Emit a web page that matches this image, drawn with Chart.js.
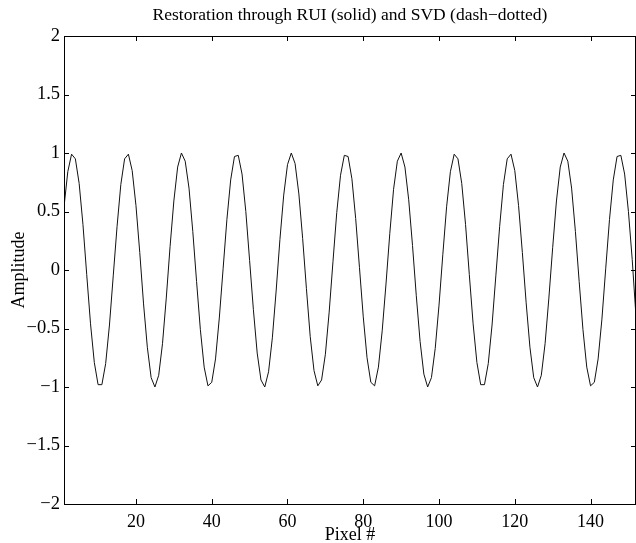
<!DOCTYPE html>
<html>
<head>
<meta charset="utf-8">
<script src="https://cdn.jsdelivr.net/npm/chart.js@4"></script>
<style>
  html, body { margin: 0; padding: 0; background: #fff; }
  #wrap { width: 636px; height: 543px; }
</style>
</head>
<body>
<div id="wrap"><canvas id="chart__restoration"></canvas></div>
<script>
const pixelIndex = [
    1, 2, 3, 4, 5, 6, 7, 8, 9, 10, 11, 12, 13, 14, 15, 16, 17, 18, 19, 20,
    21, 22, 23, 24, 25, 26, 27, 28, 29, 30, 31, 32, 33, 34, 35, 36, 37, 38, 39, 40,
    41, 42, 43, 44, 45, 46, 47, 48, 49, 50, 51, 52, 53, 54, 55, 56, 57, 58, 59, 60,
    61, 62, 63, 64, 65, 66, 67, 68, 69, 70, 71, 72, 73, 74, 75, 76, 77, 78, 79, 80,
    81, 82, 83, 84, 85, 86, 87, 88, 89, 90, 91, 92, 93, 94, 95, 96, 97, 98, 99, 100,
    101, 102, 103, 104, 105, 106, 107, 108, 109, 110, 111, 112, 113, 114, 115, 116, 117, 118, 119, 120,
    121, 122, 123, 124, 125, 126, 127, 128, 129, 130, 131, 132, 133, 134, 135, 136, 137, 138, 139, 140,
    141, 142, 143, 144, 145, 146, 147, 148, 149, 150, 151, 152
]
const ruiAmplitude = [
    0.54, 0.84, 0.99, 0.95, 0.74, 0.39, -0.04, -0.46, -0.79, -0.98,
    -0.98, -0.80, -0.47, -0.05, 0.37, 0.73, 0.95, 0.99, 0.85, 0.55,
    0.15, -0.29, -0.66, -0.92, -1.00, -0.90, -0.63, -0.24, 0.20, 0.59,
    0.88, 1.00, 0.93, 0.70, 0.33, -0.10, -0.51, -0.83, -0.99, -0.96,
    -0.76, -0.41, 0.01, 0.43, 0.77, 0.97, 0.98, 0.82, 0.50, 0.08,
    -0.34, -0.71, -0.94, -1.00, -0.87, -0.58, -0.18, 0.26, 0.64, 0.90,
    1.00, 0.91, 0.65, 0.27, -0.16, -0.57, -0.86, -0.99, -0.94, -0.72,
    -0.36, 0.07, 0.49, 0.81, 0.98, 0.97, 0.78, 0.44, 0.02, -0.40,
    -0.75, -0.96, -0.99, -0.83, -0.52, -0.12, 0.31, 0.69, 0.93, 1.00,
    0.88, 0.60, 0.21, -0.22, -0.61, -0.89, -1.00, -0.92, -0.67, -0.30,
    0.13, 0.54, 0.84, 0.99, 0.95, 0.74, 0.39, -0.04, -0.46, -0.79,
    -0.98, -0.98, -0.80, -0.47, -0.05, 0.37, 0.73, 0.95, 0.99, 0.85,
    0.55, 0.15, -0.28, -0.66, -0.92, -1.00, -0.90, -0.63, -0.24, 0.19,
    0.59, 0.88, 1.00, 0.93, 0.70, 0.33, -0.10, -0.51, -0.83, -0.99,
    -0.96, -0.76, -0.42, 0.01, 0.43, 0.77, 0.97, 0.98, 0.82, 0.50,
    0.09, -0.40
]
const xTickValues = [20, 40, 60, 80, 100, 120, 140]
const titleText = 'Restoration through RUI (solid) and SVD (dash\u2212dotted)'
const xLabel = 'Pixel #'
const yLabel = 'Amplitude'

Chart.defaults.font.family = '"Liberation Serif", "Times New Roman", serif'
Chart.defaults.color = '#000'

// matlab style box + inward ticks
const boxTicks = {
    id: 'boxTicks',
    afterDraw(chart) {
        const { ctx, chartArea: a, scales: { x, y } } = chart
        const len = 5
        ctx.save()
        ctx.strokeStyle = '#000'
        ctx.lineWidth = 1
        ctx.strokeRect(a.left + 0.5, a.top + 0.5, a.right - a.left - 1, a.bottom - a.top)
        ctx.beginPath()
        xTickValues.forEach(v => {
            const px = Math.round(x.getPixelForValue(v)) + 0.5
            ctx.moveTo(px, a.bottom); ctx.lineTo(px, a.bottom - len)
            ctx.moveTo(px, a.top); ctx.lineTo(px, a.top + len)
        })
        y.ticks.forEach(t => {
            const py = Math.round(y.getPixelForValue(t.value)) + 0.5
            ctx.moveTo(a.left, py); ctx.lineTo(a.left + len, py)
            ctx.moveTo(a.right, py); ctx.lineTo(a.right - len, py)
        })
        ctx.stroke()
        ctx.restore()
    }
}

new Chart(
    document.getElementById('chart__restoration'),
    {
        type: 'line',
        data: {
            datasets: [{
                label: 'RUI',
                data: pixelIndex.map((p, i) => ({ x: p, y: ruiAmplitude[i] })),
                borderColor: '#111',
                borderWidth: 1,
                pointRadius: 0,
                tension: 0,
                fill: false
            }]
        },
        options: {
            responsive: true,
            maintainAspectRatio: false,
            animation: false,
            layout: { padding: { left: 0, right: 0, top: 0, bottom: 0 } },
            plugins: {
                legend: { display: false },
                tooltip: { enabled: false },
                title: {
                    display: true,
                    fullSize: false,
                    text: titleText,
                    color: '#000',
                    font: { size: 17.5, weight: 'normal', lineHeight: 1.2 },
                    padding: { top: 5, bottom: 10 }
                }
            },
            scales: {
                x: {
                    type: 'linear',
                    min: 1,
                    max: 152,
                    afterBuildTicks: scale => { scale.ticks = xTickValues.map(v => ({ value: v })) },
                    afterFit: scale => { scale.height = 39 },
                    grid: { display: false, drawTicks: false },
                    border: { display: true, color: '#000', width: 1 },
                    ticks: {
                        font: { size: 18 },
                        padding: 7,
                        maxRotation: 0,
                        autoSkip: false
                    },
                    title: {
                        display: true,
                        text: xLabel,
                        font: { size: 18, lineHeight: 0.9 },
                        padding: { top: 0, bottom: 0 }
                    }
                },
                y: {
                    min: -2,
                    max: 2,
                    afterFit: scale => { scale.width = 64 },
                    grid: { display: false, drawTicks: false },
                    border: { display: true, color: '#000', width: 1 },
                    ticks: {
                        stepSize: 0.5,
                        font: { size: 18.5 },
                        padding: 4,
                        callback: v => String(v).replace('-', '\u2212')
                    },
                    title: {
                        display: true,
                        text: yLabel,
                        font: { size: 18 },
                        padding: { top: 8, bottom: 8 }
                    }
                }
            }
        },
        plugins: [boxTicks]
    }
);
</script>
</body>
</html>
